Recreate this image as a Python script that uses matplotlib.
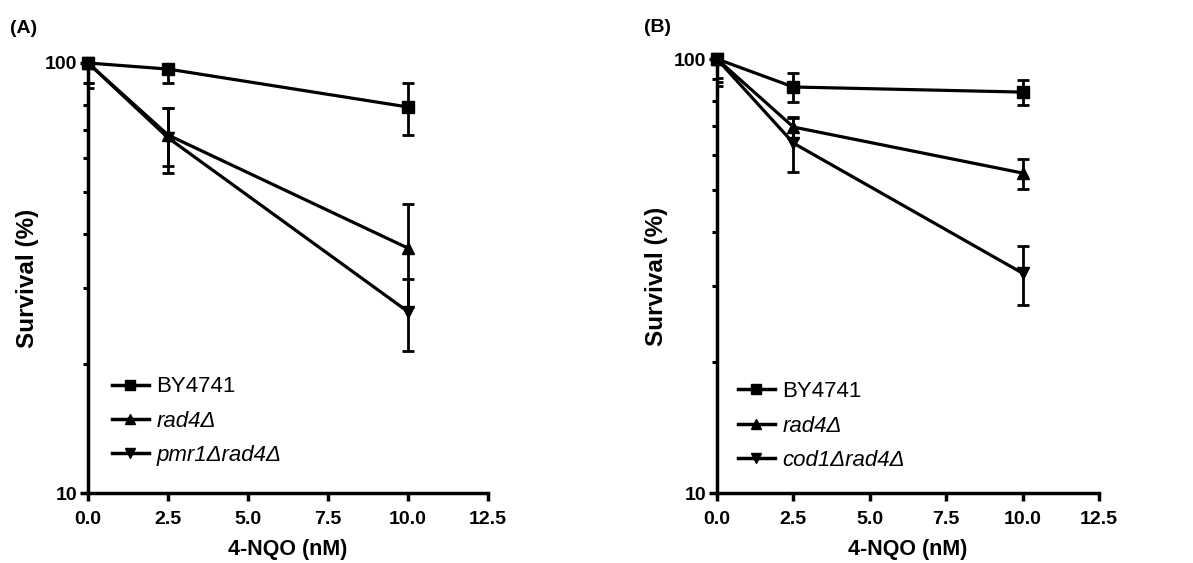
import matplotlib.pyplot as plt
from matplotlib.ticker import FixedLocator, NullFormatter, FormatStrFormatter
from matplotlib.lines import Line2D

plt.rcParams['font.family'] = ['Liberation Sans', 'DejaVu Sans']

dose = [0, 2.5, 10]

# panel A
a_by = [100, 96.8, 79]
a_by_err = [10, 7, 11]
a_rad4 = [100, 68, 37.1]
a_rad4_err = [10.2, 10.5, 10]
a_pmr1 = [100, 67, 26.4]
a_pmr1_err = [12.5, 11.5, 5]

# panel B
b_by = [100, 86.2, 83.9]
b_by_err = [9.7, 6.5, 5.5]
b_rad4 = [100, 69.7, 54.6]
b_rad4_err = [11.4, 3.8, 4.3]
b_cod1 = [100, 64, 32.1]
b_cod1_err = [13.2, 9, 5]

labels_a = ['BY4741', 'rad4Δ', 'pmr1Δrad4Δ']
labels_b = ['BY4741', 'rad4Δ', 'cod1Δrad4Δ']
markers = ['s', '^', 'v']

fig = plt.figure(figsize=(11.93, 5.63), dpi=100)
axA = fig.add_axes([0.0738, 0.1243, 0.3353, 0.7638])
axB = fig.add_axes([0.6010, 0.1243, 0.3202, 0.7709])


def panel(ax, series, errs, labels, legend_anchor):
    handles = []
    for y, e, m in zip(series, errs, markers):
        line, caps, bars = ax.errorbar(dose, y, yerr=e, color='black', lw=2.3,
                                       marker=m, markersize=8.5, capsize=4.5,
                                       capthick=2, elinewidth=2)
        line.set_clip_on(False)
        handles.append(Line2D([], [], color='black', lw=2.5, marker=m, markersize=7))
    ax.set_yscale('log')
    ax.set_ylim(10, 100)
    ax.set_xlim(0, 12.5)
    ax.yaxis.set_major_locator(FixedLocator([10, 100]))
    ax.yaxis.set_minor_locator(FixedLocator([20, 30, 40, 50, 60, 70, 80, 90]))
    ax.yaxis.set_minor_formatter(NullFormatter())
    ax.yaxis.set_major_formatter(FormatStrFormatter('%d'))
    ax.set_xticks([0, 2.5, 5, 7.5, 10, 12.5])
    ax.xaxis.set_major_formatter(FormatStrFormatter('%.1f'))
    for s in ['top', 'right']:
        ax.spines[s].set_visible(False)
    for s in ['left', 'bottom']:
        ax.spines[s].set_linewidth(2.5)
    ax.tick_params(which='major', length=6, width=2.5, labelsize=14)
    ax.tick_params(axis='x', pad=7)
    ax.tick_params(axis='y', pad=2)
    ax.tick_params(which='minor', length=3.5, width=2.2)
    for t in ax.get_xticklabels() + ax.get_yticklabels():
        t.set_fontweight('bold')
    ax.set_xlabel('4-NQO (nM)', fontsize=15.5, fontweight='bold', labelpad=8)
    ax.set_ylabel('Survival (%)', fontsize=17.5, fontweight='bold', labelpad=4)
    leg = ax.legend(handles, labels, loc='upper left', bbox_to_anchor=legend_anchor,
                    frameon=False, fontsize=16, handlelength=1.65, handletextpad=0.35,
                    labelspacing=0.6, borderaxespad=0)
    for t in leg.get_texts()[1:]:
        t.set_fontstyle('italic')


panel(axA, [a_by, a_rad4, a_pmr1], [a_by_err, a_rad4_err, a_pmr1_err], labels_a, (0.038, 0.292))
panel(axB, [b_by, b_rad4, b_cod1], [b_by_err, b_rad4_err, b_cod1_err], labels_b, (0.032, 0.278))

fig.text(0.008, 0.95, '(A)', fontsize=14, fontweight='bold', va='center')
fig.text(0.540, 0.952, '(B)', fontsize=14, fontweight='bold', va='center')

fig.savefig('out.png', dpi=100)
